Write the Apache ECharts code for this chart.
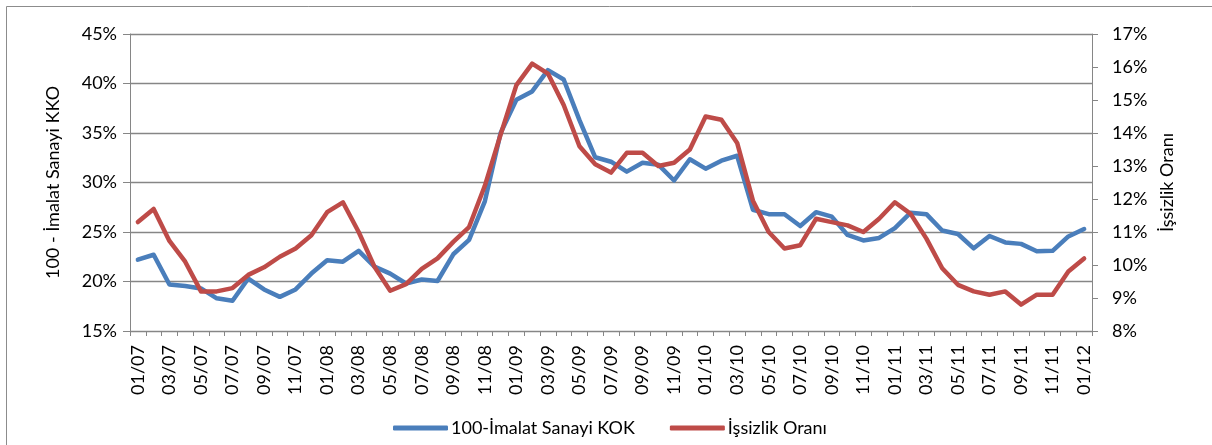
<!DOCTYPE html>
<html>
<head>
<meta charset="utf-8">
<script src="https://cdn.jsdelivr.net/npm/echarts@6/dist/echarts.min.js"></script>
<style>
html,body{margin:0;padding:0;background:#fff;}
#chart{width:1212px;height:445px;}
</style>
</head>
<body>
<div id="chart"></div>
<script>
const categories = [
  '01/07','02/07','03/07','04/07','05/07','06/07','07/07','08/07','09/07','10/07','11/07','12/07',
  '01/08','02/08','03/08','04/08','05/08','06/08','07/08','08/08','09/08','10/08','11/08','12/08',
  '01/09','02/09','03/09','04/09','05/09','06/09','07/09','08/09','09/09','10/09','11/09','12/09',
  '01/10','02/10','03/10','04/10','05/10','06/10','07/10','08/10','09/10','10/10','11/10','12/10',
  '01/11','02/11','03/11','04/11','05/11','06/11','07/11','08/11','09/11','10/11','11/11','12/11',
  '01/12'
];
const kokSeriesName = '100-İmalat Sanayi KOK';
const kokValues = [
  22.2, 22.7, 19.7, 19.55, 19.3, 18.3, 18.05, 20.3, 19.2, 18.45, 19.2, 20.8,
  22.15, 22.0, 23.1, 21.5, 20.8, 19.8, 20.2, 20.05, 22.75, 24.2, 28.1, 35.0,
  38.35, 39.2, 41.35, 40.4, 36.3, 32.55, 32.1, 31.1, 32.0, 31.8, 30.2, 32.35,
  31.4, 32.2, 32.7, 27.25, 26.8, 26.8, 25.6, 27.0, 26.55, 24.7, 24.15, 24.4,
  25.4, 26.95, 26.8, 25.15, 24.8, 23.35, 24.6, 23.95, 23.8, 23.05, 23.1, 24.55,
  25.3
];
const unempSeriesName = 'İşsizlik Oranı';
const unempValues = [
  11.3, 11.7, 10.73, 10.1, 9.2, 9.2, 9.3, 9.7, 9.93, 10.25, 10.5, 10.9,
  11.6, 11.9, 11.0, 9.95, 9.22, 9.42, 9.88, 10.2, 10.7, 11.15, 12.4, 13.95,
  15.45, 16.1, 15.8, 14.85, 13.6, 13.05, 12.8, 13.4, 13.4, 13.0, 13.1, 13.5,
  14.5, 14.4, 13.7, 11.95, 11.0, 10.5, 10.6, 11.4, 11.3, 11.2, 11.0, 11.4,
  11.9, 11.55, 10.8, 9.9, 9.4, 9.2, 9.1, 9.2, 8.8, 9.1, 9.1, 9.8,
  10.2
];
const leftAxisName = '100 - İmalat Sanayi KKO';
const rightAxisName = 'İşsizlik Oranı';

const FONT = 'Lato';
const GRAY = '#868686';
const chart = echarts.init(document.getElementById('chart'), null, {renderer: 'canvas'});
chart.setOption({
  animation: false,
  backgroundColor: '#fff',
  textStyle: {fontFamily: FONT},
  graphic: [{
    type: 'rect', silent: true, z: -1,
    shape: {x: 6.5, y: 6.5, width: 1230, height: 470},
    style: {fill: 'none', stroke: '#8c8c8c', lineWidth: 1}
  }],
  grid: {left: 130, right: 120, top: 34, bottom: 114, containLabel: false},
  legend: {
    left: 388, top: 414,
    itemWidth: 55, itemHeight: 5, itemGap: 35,
    icon: 'roundRect',
    textStyle: {fontFamily: FONT, fontSize: 18, color: '#000', padding: [0,0,0,-2]},
    data: [kokSeriesName, unempSeriesName]
  },
  xAxis: {
    type: 'category',
    data: categories,
    boundaryGap: true,
    axisLine: {lineStyle: {color: GRAY, width: 1}},
    axisTick: {show: true, interval: 0, length: 5, lineStyle: {color: GRAY}},
    axisLabel: {interval: 1, rotate: 90, margin: 14, fontFamily: FONT, fontSize: 18, color: '#000'},
    splitLine: {show: false}
  },
  yAxis: [{
    type: 'value',
    min: 15, max: 45, interval: 5,
    position: 'left',
    name: leftAxisName,
    nameLocation: 'middle',
    nameRotate: 90,
    nameGap: 68,
    nameTextStyle: {fontFamily: FONT, fontSize: 18, color: '#000'},
    axisLine: {show: true, lineStyle: {color: GRAY}},
    axisTick: {show: true, length: 7, lineStyle: {color: GRAY}},
    axisLabel: {formatter: '{value}%', margin: 13, fontFamily: FONT, fontSize: 18, color: '#000'},
    splitLine: {show: true, lineStyle: {color: GRAY, width: 1.3}}
  }, {
    type: 'value',
    min: 8, max: 17, interval: 1,
    position: 'right',
    name: rightAxisName,
    nameLocation: 'middle',
    nameRotate: 90,
    nameGap: 63,
    nameTextStyle: {fontFamily: FONT, fontSize: 18, color: '#000'},
    axisLine: {show: true, lineStyle: {color: GRAY}},
    axisTick: {show: true, length: 6, lineStyle: {color: GRAY}},
    axisLabel: {formatter: '{value}%', margin: 20, fontFamily: FONT, fontSize: 18, color: '#000'},
    splitLine: {show: false}
  }],
  series: [{
    name: kokSeriesName,
    type: 'line',
    yAxisIndex: 0,
    data: kokValues,
    symbol: 'none',
    color: '#4A7EBB',
    lineStyle: {width: 4.5, color: '#4A7EBB', join: 'round', cap: 'round'}
  }, {
    name: unempSeriesName,
    type: 'line',
    yAxisIndex: 1,
    data: unempValues,
    symbol: 'none',
    color: '#BE4B48',
    lineStyle: {width: 4.5, color: '#BE4B48', join: 'round', cap: 'round'}
  }]
});
</script>
</body>
</html>
